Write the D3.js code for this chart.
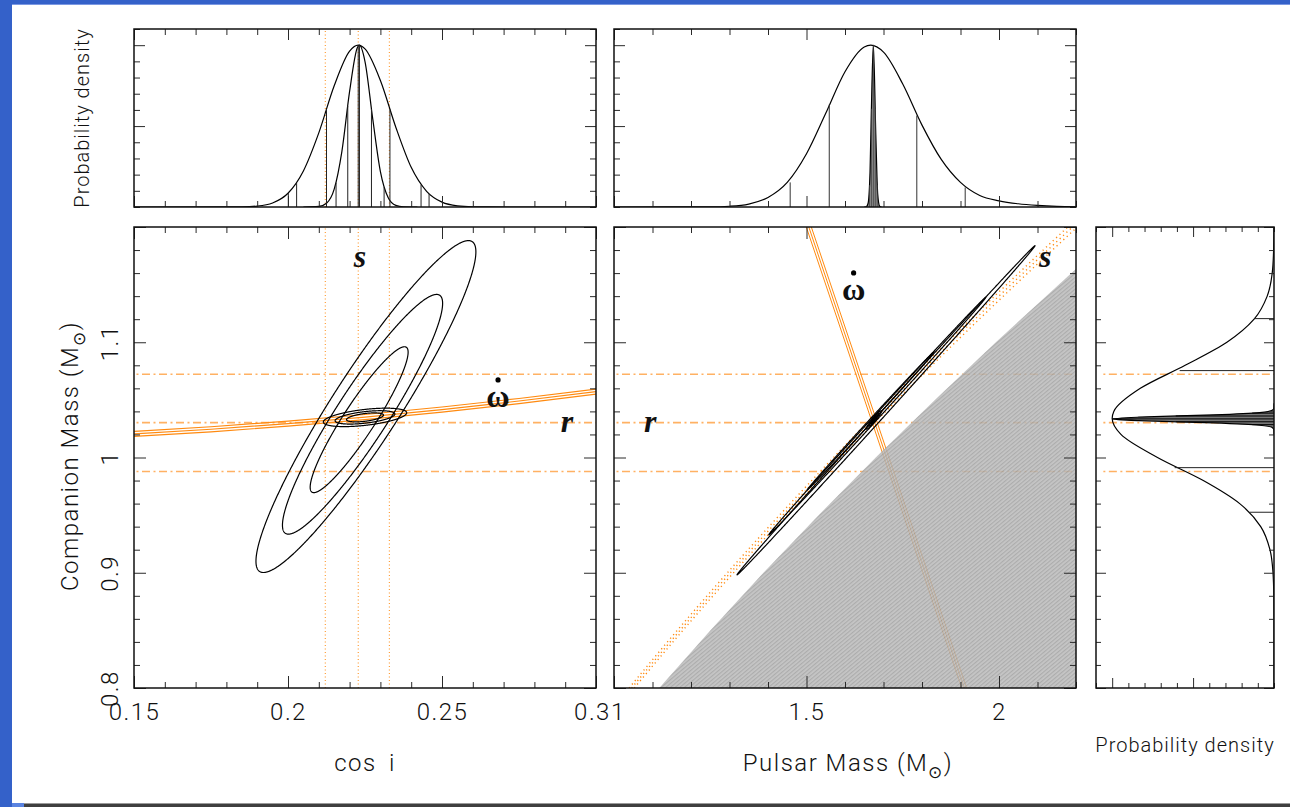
<!DOCTYPE html>
<html><head><meta charset="utf-8">
<script src="https://cdn.jsdelivr.net/npm/d3@7"></script>
<style>
html,body{margin:0;padding:0;background:#fff;}
svg{display:block;}
text{font-family:Roboto,"Liberation Sans",sans-serif;font-weight:300;fill:#111;}
.lab text{font-size:24px;letter-spacing:1.5px;}
.ttl{font-size:24px;letter-spacing:1.5px;}
.pd{font-size:20px;letter-spacing:1px;}
.ann{font-family:"Liberation Serif","Times New Roman",serif;font-size:32px;font-weight:bold;}
</style></head><body>
<svg id="c" width="1290" height="807"></svg>
<script>
// ---------------- data ----------------
const cosiDomain = [0.15, 0.30];
const mpDomain = [1.0, 2.2];
const mcDomain = [0.8, 1.2];
const pdfDomain = [0, 1.1];

const cosiTickValues = [0.15, 0.2, 0.25, 0.3];
const cosiTickLabels = ["0.15", "0.2", "0.25", "0.3"];
const mpTickValues = [1, 1.5, 2];
const mpTickLabels = ["1", "1.5", "2"];
const mcTickValues = [0.8, 0.9, 1.0, 1.1];
const mcTickLabels = ["0.8", "0.9", "1", "1.1"];
const pdfMajor = [0.5, 1.0];

// s (Shapiro shape) constraint: cos i values
const sCosi = [0.2121, 0.2228, 0.2329];
// r (Shapiro range) constraint: companion mass values
const rMc = [0.9878, 1.0303, 1.0722];

// omega-dot band in cos i – Mc plane
const omdotCosi = [0.15, 0.175, 0.20, 0.225, 0.25, 0.275, 0.30];
const omdotMcLow = [1.0183, 1.0223, 1.0272, 1.0329, 1.0394, 1.0468, 1.0550];
const omdotMcMid = [1.0205, 1.0245, 1.0294, 1.0351, 1.0416, 1.0490, 1.0572];
const omdotMcHigh = [1.0227, 1.0267, 1.0316, 1.0373, 1.0438, 1.0512, 1.0594];

// omega-dot band in Mp – Mc plane (pulsar mass at Mc = 0.8 and Mc = 1.2)
const omdotMcEnds = [0.8, 1.2];
const omdotMpA = [1.9031, 1.4995];
const omdotMpB = [1.9096, 1.5060];
const omdotMpC = [1.9161, 1.5125];

// s constraint in Mp – Mc plane
const sMcGrid = [0.8, 0.85, 0.9, 0.95, 1.0, 1.05, 1.1, 1.15, 1.2];
const sMpA = [1.0391, 1.1642, 1.2945, 1.4299, 1.5702, 1.7154, 1.8652, 2.0197, 2.1786];
const sMpB = [1.0457, 1.1715, 1.3024, 1.4385, 1.5795, 1.7254, 1.8759, 2.0311, 2.1908];
const sMpC = [1.0525, 1.1789, 1.3105, 1.4473, 1.5890, 1.7356, 1.8869, 2.0428, 2.2033];

// excluded region (sin i > 1) boundary
const exclMc = [0.8, 0.85, 0.9, 0.95, 1.0, 1.05, 1.1, 1.15, 1.1635];
const exclMp = [1.1176, 1.2502, 1.3882, 1.5315, 1.680, 1.8335, 1.9919, 2.1551, 2.2];

// confidence contours (centre, spread, correlation)
const contCosiMc = [
  {cx: 0.2253, cy: 1.0442, sx: 0.0357, sy: 0.144, rho: 0.932},
  {cx: 0.2242, cy: 1.0375, sx: 0.026, sy: 0.104, rho: 0.925},
  {cx: 0.2231, cy: 1.0328, sx: 0.0159, sy: 0.0633, rho: 0.925},
  {cx: 0.2250, cy: 1.0348, sx: 0.01353, sy: 0.0080, rho: 0.5},
  {cx: 0.2250, cy: 1.0348, sx: 0.0097, sy: 0.0058, rho: 0.5},
  {cx: 0.2250, cy: 1.0348, sx: 0.0060, sy: 0.0039, rho: 0.5}
];
const contMpMc = [
  {cx: 1.7066, cy: 1.041, sx: 0.387, sy: 0.1428, rho: 0.9997},
  {cx: 1.684, cy: 1.036, sx: 0.282, sy: 0.1031, rho: 0.9996},
  {cx: 1.6667, cy: 1.0318, sx: 0.165, sy: 0.060, rho: 0.9994},
  {cx: 1.675, cy: 1.0326, sx: 0.020, sy: 0.008, rho: 0.95},
  {cx: 1.675, cy: 1.0326, sx: 0.013, sy: 0.0055, rho: 0.95},
  {cx: 1.675, cy: 1.0326, sx: 0.008, sy: 0.0035, rho: 0.95}
];

// probability densities (normalised to peak = 1)
const cosiWideX = [0.15, 0.180, 0.185, 0.190, 0.195, 0.200, 0.205, 0.210, 0.215, 0.220, 0.2228, 0.225, 0.230, 0.235, 0.240, 0.245, 0.250, 0.255, 0.260, 0.265, 0.30];
const cosiWideP = [0, 0.0002, 0.0011, 0.006, 0.025, 0.085, 0.223, 0.458, 0.749, 0.963, 1, 0.977, 0.782, 0.493, 0.245, 0.097, 0.030, 0.0072, 0.0014, 0.0002, 0];
const cosiNarrowX = [0.205, 0.210, 0.2125, 0.215, 0.2175, 0.220, 0.2225, 0.2232, 0.225, 0.2275, 0.230, 0.2325, 0.235, 0.2375, 0.242];
const cosiNarrowP = [0, 0.0033, 0.023, 0.110, 0.344, 0.714, 0.984, 1, 0.899, 0.546, 0.219, 0.059, 0.010, 0.0012, 0];
const cosiWideMarkX = [0.2001, 0.2028, 0.2125, 0.2228, 0.2331, 0.2432, 0.2458];
const cosiWideMarkP = [0.087, 0.149, 0.604, 1.0, 0.604, 0.138, 0.081];
const cosiNarrowMarkX = [0.2156, 0.2194, 0.2232, 0.2271, 0.2312];
const cosiNarrowMarkP = [0.150, 0.624, 1.0, 0.606, 0.122];

const mpWideX = [1.0, 1.25, 1.30, 1.35, 1.40, 1.45, 1.50, 1.55, 1.60, 1.65, 1.667, 1.70, 1.75, 1.80, 1.85, 1.90, 1.95, 2.00, 2.05, 2.10, 2.15, 2.2];
const mpWideP = [0, 0.001, 0.0046, 0.018, 0.059, 0.152, 0.329, 0.579, 0.836, 0.989, 1, 0.957, 0.760, 0.506, 0.294, 0.152, 0.071, 0.038, 0.020, 0.010, 0.004, 0.0015];
const mpSpikeX = [1.650, 1.655, 1.660, 1.665, 1.670, 1.6737, 1.680, 1.685, 1.690, 1.695];
const mpSpikeP = [0, 0.0009, 0.023, 0.216, 0.76, 1, 0.45, 0.078, 0.005, 0];
const mpWideMarkX = [1.4576, 1.5591, 1.7865, 1.9122];
const mpWideMarkP = [0.152, 0.633, 0.565, 0.121];
const mpSpikeMarkX = [1.6637, 1.6687, 1.6737, 1.6787, 1.6837];
const mpSpikeMarkP = [0.135, 0.607, 1.0, 0.607, 0.135];

const mcWideY = [0.8, 0.86, 0.88, 0.90, 0.92, 0.94, 0.96, 0.98, 1.00, 1.02, 1.034, 1.04, 1.06, 1.08, 1.10, 1.12, 1.14, 1.16, 1.18, 1.20];
const mcWideP = [0, 0.0002, 0.0012, 0.0062, 0.025, 0.082, 0.212, 0.437, 0.720, 0.946, 1, 0.990, 0.826, 0.549, 0.291, 0.123, 0.042, 0.011, 0.0024, 0.0004];
const mcSpikeY = [1.020, 1.024, 1.026, 1.028, 1.030, 1.032, 1.0335, 1.035, 1.037, 1.039, 1.041, 1.043, 1.047];
const mcSpikeP = [0, 0.0007, 0.011, 0.089, 0.375, 0.835, 1, 0.835, 0.375, 0.089, 0.011, 0.0007, 0];
const mcWideMarkY = [0.9525, 0.9912, 1.0754, 1.1205];
const mcWideMarkP = [0.152, 0.614, 0.583, 0.121];
const mcSpikeMarkY = [1.0285, 1.031, 1.0335, 1.036, 1.0385];
const mcSpikeMarkP = [0.135, 0.607, 1.0, 0.607, 0.135];

// annotations (data coordinates of label baselines)
const annLeft = [{t: "s", x: 0.2234, y: 1.1653}, {t: "ω", x: 0.2682, y: 1.0439, dot: true}, {t: "r", x: 0.2906, y: 1.0222}];
const annMid = [{t: "r", x: 1.0938, y: 1.0222}, {t: "ω", x: 1.6224, y: 1.1367, dot: true}, {t: "s", x: 2.1198, y: 1.1653}];

// ---------------- drawing ----------------
const svg = d3.select("#c");
svg.append("rect").attr("width", 1290).attr("height", 807).attr("fill", "#fff");
// window frame
svg.append("rect").attr("x", 0).attr("y", 0).attr("width", 1290).attr("height", 5).attr("fill", "#3461c9");
svg.append("rect").attr("x", 0).attr("y", 4).attr("width", 1290).attr("height", 1).attr("fill", "#7b98e2");
svg.append("rect").attr("x", 0).attr("y", 0).attr("width", 12).attr("height", 807).attr("fill", "#3461c9");
svg.append("rect").attr("x", 12).attr("y", 803).attr("width", 12).attr("height", 4).attr("fill", "#5a83e0");
svg.append("rect").attr("x", 24).attr("y", 803).attr("width", 1266).attr("height", 4).attr("fill", "#3f3f3f");
svg.append("rect").attr("x", 24).attr("y", 803).attr("width", 1266).attr("height", 1).attr("fill", "#9a9a9a");

const defs = svg.append("defs");
const pat = defs.append("pattern").attr("id", "hatch").attr("patternUnits", "userSpaceOnUse")
  .attr("width", 3).attr("height", 3).attr("patternTransform", "rotate(-40)");
pat.append("rect").attr("width", 3).attr("height", 3).attr("fill", "#bcbcbc");
pat.append("rect").attr("width", 3).attr("height", 1.2).attr("fill", "#9e9e9e");

// scales
const xC = d3.scaleLinear(cosiDomain, [134, 596]);
const xM = d3.scaleLinear(mpDomain, [614, 1076]);
const yMc = d3.scaleLinear(mcDomain, [688, 227]);
const yP = d3.scaleLinear(pdfDomain, [207, 29]);
const xPR = d3.scaleLinear(pdfDomain, [1274, 1096]);

function clip(id, xs, ys) {
  const [a, b] = d3.extent(xs.range()), [c, d] = d3.extent(ys.range());
  defs.append("clipPath").attr("id", id).append("rect").attr("x", a).attr("y", c).attr("width", b - a).attr("height", d - c);
  return svg.append("g").attr("clip-path", `url(#${id})`);
}

const ORANGE = "#ff8a10";
const LORANGE = "#ffb163";

function frameAxes(xs, ys, o) {
  const g = svg.append("g");
  const [xl, xr] = d3.extent(xs.range());
  const [ya, yb] = d3.extent(ys.range());
  const close = (a, b) => Math.abs(a - b) < 1e-9;
  const xMinor = xs.ticks(o.xn).filter(v => !o.xMajor.some(m => close(m, v)));
  const yMinor = ys.ticks(o.yn).filter(v => !o.yMajor.some(m => close(m, v)));
  const specs = [
    [d3.axisBottom, xs, `translate(0,${yb})`, xMinor, o.xMajor],
    [d3.axisTop, xs, `translate(0,${ya})`, xMinor, o.xMajor],
    [d3.axisLeft, ys, `translate(${xl},0)`, yMinor, o.yMajor],
    [d3.axisRight, ys, `translate(${xr},0)`, yMinor, o.yMajor]
  ];
  specs.forEach(([ax, sc, tr, minor, major]) => {
    [[minor, o.minLen], [major, o.majLen]].forEach(([vals, len]) => {
      g.append("g").attr("transform", tr).attr("color", "#2a2a2a")
        .call(ax(sc).tickValues(vals).tickSize(-len).tickFormat(""))
        .call(s => s.select(".domain").remove())
        .call(s => s.selectAll("line").attr("stroke-width", 1));
    });
  });
  g.append("rect").attr("x", xl).attr("y", ya).attr("width", xr - xl).attr("height", yb - ya)
    .attr("fill", "none").attr("stroke", "#111").attr("stroke-width", 1.5);
}

function ellipse(e, xs, ys) {
  const n = 900, pts = [];
  const k = Math.sqrt(1 - e.rho * e.rho);
  for (let i = 0; i < n; i++) {
    const t = 2 * Math.PI * i / n;
    pts.push([xs(e.cx + e.sx * Math.cos(t)), ys(e.cy + e.sy * (e.rho * Math.cos(t) + k * Math.sin(t)))]);
  }
  return d3.line().curve(d3.curveLinearClosed)(pts);
}

function hline(g, ys, xs, v) {
  return g.append("line").attr("x1", xs.range()[0]).attr("x2", xs.range()[1]).attr("y1", ys(v)).attr("y2", ys(v));
}

function dashdot(sel) {
  sel.attr("stroke", LORANGE).attr("stroke-width", 1.6).attr("stroke-dasharray", "8,3.5,2,3.5").attr("stroke-dashoffset", -8).attr("fill", "none");
}

// ===== top-left histogram (cos i) =====
{
  const g = clip("cTL", xC, yP);
  sCosi.forEach(v => g.append("line").attr("x1", xC(v)).attr("x2", xC(v)).attr("y1", yP(0)).attr("y2", yP(1.1))
    .attr("stroke", ORANGE).attr("stroke-width", 1).attr("stroke-dasharray", "1,2.5"));
  const ln = d3.line().x(d => xC(d[0])).y(d => yP(d[1])).curve(d3.curveMonotoneX);
  g.append("path").attr("d", ln(d3.zip(cosiWideX, cosiWideP))).attr("fill", "none").attr("stroke", "#000").attr("stroke-width", 1.2);
  g.append("path").attr("d", ln(d3.zip(cosiNarrowX, cosiNarrowP))).attr("fill", "none").attr("stroke", "#000").attr("stroke-width", 1.2);
  d3.zip(cosiWideMarkX.concat(cosiNarrowMarkX), cosiWideMarkP.concat(cosiNarrowMarkP)).forEach(([x, p]) =>
    g.append("line").attr("x1", xC(x)).attr("x2", xC(x)).attr("y1", yP(0)).attr("y2", yP(p)).attr("stroke", "#222").attr("stroke-width", 1));
  frameAxes(xC, yP, {xn: 15, yn: 11, xMajor: cosiTickValues, yMajor: pdfMajor, minLen: 6, majLen: 11});
}

// ===== top-middle histogram (Mp) =====
{
  const g = clip("cTM", xM, yP);
  const ln = d3.line().x(d => xM(d[0])).y(d => yP(d[1])).curve(d3.curveMonotoneX);
  g.append("path").attr("d", ln(d3.zip(mpWideX, mpWideP))).attr("fill", "none").attr("stroke", "#000").attr("stroke-width", 1.2);
  d3.zip(mpWideMarkX, mpWideMarkP).forEach(([x, p]) =>
    g.append("line").attr("x1", xM(x)).attr("x2", xM(x)).attr("y1", yP(0)).attr("y2", yP(p)).attr("stroke", "#333").attr("stroke-width", 1));
  g.append("path").attr("d", ln(d3.zip(mpSpikeX, mpSpikeP))).attr("fill", "#8a8a8a").attr("stroke", "#000").attr("stroke-width", 1.2);
  d3.zip(mpSpikeMarkX, mpSpikeMarkP).forEach(([x, p]) =>
    g.append("line").attr("x1", xM(x)).attr("x2", xM(x)).attr("y1", yP(0)).attr("y2", yP(p)).attr("stroke", "#444").attr("stroke-width", 0.8));
  frameAxes(xM, yP, {xn: 12, yn: 11, xMajor: [1.0, 1.5, 2.0], yMajor: pdfMajor, minLen: 6, majLen: 11});
}

// ===== main left (cos i vs Mc) =====
{
  const g = clip("cML", xC, yMc);
  rMc.forEach(v => hline(g, yMc, xC, v).call(dashdot));
  sCosi.forEach(v => g.append("line").attr("x1", xC(v)).attr("x2", xC(v)).attr("y1", yMc(0.8)).attr("y2", yMc(1.2))
    .attr("stroke", ORANGE).attr("stroke-width", 1).attr("stroke-dasharray", "1,2.5"));
  const ln = d3.line().x(d => xC(d[0])).y(d => yMc(d[1])).curve(d3.curveMonotoneX);
  [omdotMcLow, omdotMcMid, omdotMcHigh].forEach(arr =>
    g.append("path").attr("d", ln(d3.zip(omdotCosi, arr))).attr("fill", "none").attr("stroke", ORANGE).attr("stroke-width", 1.2));
  contCosiMc.forEach(e => g.append("path").attr("d", ellipse(e, xC, yMc)).attr("fill", "none").attr("stroke", "#000").attr("stroke-width", 1.2));
  annLeft.forEach(a => {
    g.append("text").attr("class", "ann").attr("x", xC(a.x)).attr("y", yMc(a.y)).attr("text-anchor", "middle")
      .style("font-style", a.dot ? "normal" : "italic").text(a.t);
    if (a.dot) g.append("circle").attr("cx", xC(a.x)).attr("cy", yMc(a.y) - 27).attr("r", 2.6).attr("fill", "#000");
  });
  frameAxes(xC, yMc, {xn: 15, yn: 20, xMajor: cosiTickValues, yMajor: [0.8, 0.9, 1.0, 1.1, 1.2], minLen: 6, majLen: 12});
}

// ===== main middle (Mp vs Mc) =====
{
  const g = clip("cMM", xM, yMc);
  rMc.forEach(v => hline(g, yMc, xM, v).call(dashdot));
  const lnY = d3.line().x(d => xM(d[0])).y(d => yMc(d[1])).curve(d3.curveMonotoneY);
  [sMpA, sMpB, sMpC].forEach(arr =>
    g.append("path").attr("d", lnY(d3.zip(arr, sMcGrid))).attr("fill", "none").attr("stroke", ORANGE)
      .attr("stroke-width", 1.4).attr("stroke-dasharray", "1.2,3.4"));
  [omdotMpA, omdotMpB, omdotMpC].forEach(arr =>
    g.append("path").attr("d", d3.line().x(d => xM(d[0])).y(d => yMc(d[1]))(d3.zip(arr, omdotMcEnds)))
      .attr("fill", "none").attr("stroke", ORANGE).attr("stroke-width", 1.0));
  // excluded region
  const poly = d3.zip(exclMp, exclMc).concat([[mpDomain[1], mcDomain[1] - 0.0365], [mpDomain[1], mcDomain[0]]]);
  g.append("path").attr("d", d3.line().x(d => xM(d[0])).y(d => yMc(d[1]))(poly) + "Z")
    .attr("fill", "url(#hatch)").attr("fill-opacity", 0.85);
  contMpMc.forEach(e => g.append("path").attr("d", ellipse(e, xM, yMc)).attr("fill", "none").attr("stroke", "#000").attr("stroke-width", 1.2));
  annMid.forEach(a => {
    g.append("text").attr("class", "ann").attr("x", xM(a.x)).attr("y", yMc(a.y)).attr("text-anchor", "middle")
      .style("font-style", a.dot ? "normal" : "italic").text(a.t);
    if (a.dot) g.append("circle").attr("cx", xM(a.x)).attr("cy", yMc(a.y) - 27).attr("r", 2.6).attr("fill", "#000");
  });
  frameAxes(xM, yMc, {xn: 12, yn: 20, xMajor: [1.0, 1.5, 2.0], yMajor: [0.8, 0.9, 1.0, 1.1, 1.2], minLen: 6, majLen: 12});
}

// ===== right panel (Mc pdf) =====
{
  const g = clip("cR", xPR, yMc);
  rMc.forEach(v => g.append("line").attr("x1", xPR(1.07)).attr("x2", xPR(0)).attr("y1", yMc(v)).attr("y2", yMc(v)).call(dashdot));
  const ln = d3.line().x(d => xPR(d[1])).y(d => yMc(d[0])).curve(d3.curveMonotoneY);
  g.append("path").attr("d", ln(d3.zip(mcWideY, mcWideP))).attr("fill", "none").attr("stroke", "#000").attr("stroke-width", 1.2);
  d3.zip(mcWideMarkY, mcWideMarkP).forEach(([y, p]) =>
    g.append("line").attr("x1", xPR(p)).attr("x2", xPR(0)).attr("y1", yMc(y)).attr("y2", yMc(y)).attr("stroke", "#222").attr("stroke-width", 1));
  g.append("path").attr("d", ln(d3.zip(mcSpikeY, mcSpikeP))).attr("fill", "#777").attr("stroke", "#000").attr("stroke-width", 1.2);
  d3.zip(mcSpikeMarkY, mcSpikeMarkP).forEach(([y, p]) =>
    g.append("line").attr("x1", xPR(p)).attr("x2", xPR(0)).attr("y1", yMc(y)).attr("y2", yMc(y)).attr("stroke", "#000").attr("stroke-width", 1));
  frameAxes(xPR, yMc, {xn: 11, yn: 20, xMajor: pdfMajor, yMajor: [0.8, 0.9, 1.0, 1.1, 1.2], minLen: 5, majLen: 10});
}

// ===== tick labels =====
function bottomLabels(xs, vals, labs, nudge) {
  svg.append("g").attr("class", "lab").attr("transform", "translate(0,688)").attr("color", "#111")
    .call(d3.axisBottom(xs).tickValues(vals).tickSize(0).tickPadding(15).tickFormat((d, i) => labs[i]))
    .call(s => s.select(".domain").remove())
    .call(s => s.selectAll("text").attr("dx", (d, i) => nudge[i]));
}
bottomLabels(xC, cosiTickValues, cosiTickLabels, [0, 0, 0, -4]);
bottomLabels(xM, mpTickValues, mpTickLabels, [4, 0, 0]);
svg.append("g").attr("class", "lab").attr("transform", "translate(134,0)").attr("color", "#111")
  .call(d3.axisLeft(yMc).tickValues(mcTickValues).tickSize(0).tickFormat((d, i) => mcTickLabels[i]))
  .call(s => s.select(".domain").remove())
  .call(s => s.selectAll("text").attr("x", null).attr("dy", null).attr("text-anchor", "middle")
    .attr("transform", "translate(-16,0) rotate(-90)"));

// ===== axis titles =====
svg.append("text").attr("class", "ttl").attr("x", 365).attr("y", 771).attr("text-anchor", "middle")
  .attr("word-spacing", "5px").text("cos i");
{
  const t = svg.append("text").attr("class", "ttl").attr("x", 848).attr("y", 771).attr("text-anchor", "middle");
  t.append("tspan").text("Pulsar Mass (M");
  t.append("tspan").attr("dy", 7).style("font-size", "17px").style("font-family", "DejaVu Sans").text("⊙");
  t.append("tspan").attr("dy", -7).text(")");
}
{
  const t = svg.append("text").attr("class", "ttl").attr("text-anchor", "middle")
    .attr("transform", "translate(78,456) rotate(-90)");
  t.append("tspan").text("Companion Mass (M");
  t.append("tspan").attr("dy", 7).style("font-size", "17px").style("font-family", "DejaVu Sans").text("⊙");
  t.append("tspan").attr("dy", -7).text(")");
}
svg.append("text").attr("class", "pd").attr("text-anchor", "middle")
  .attr("transform", "translate(89,118) rotate(-90)").text("Probability density");
svg.append("text").attr("class", "pd").attr("text-anchor", "middle")
  .attr("x", 1185).attr("y", 752).text("Probability density");
</script></body></html>
